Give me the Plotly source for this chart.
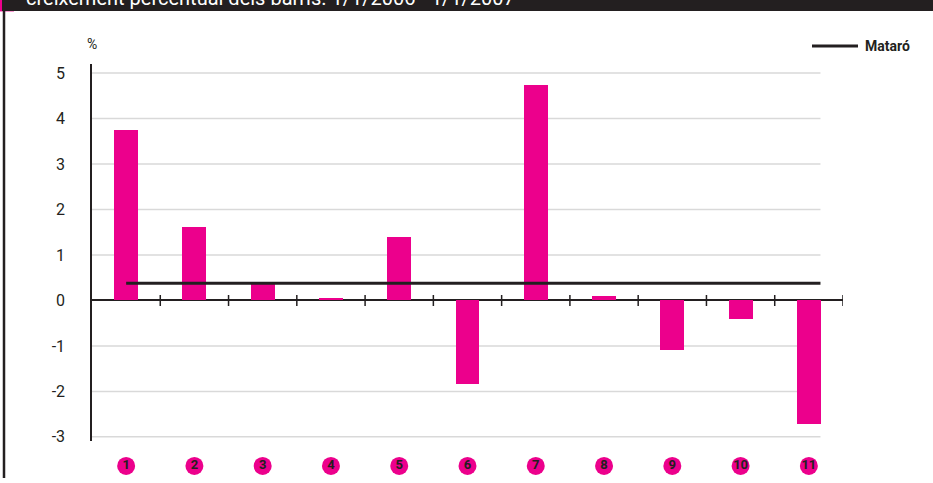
import plotly.graph_objects as go

barris = ["1", "2", "3", "4", "5", "6", "7", "8", "9", "10", "11"]
creixement = [3.75, 1.61, 0.37, 0.05, 1.39, -1.83, 4.74, 0.09, -1.08, -0.40, -2.72]
mataro = 0.38
y_ticks = [5, 4, 3, 2, 1, 0, -1, -2, -3]
titol = "creixement percentual dels barris. 1/1/2006 - 1/1/2007"

W, H = 933, 483
H_EFF = 477  # alçada visible efectiva a la captura
MAGENTA = "#EC008C"
DARK = "#231F20"
GRID = "#D9D9D9"
FONT = "Roboto"


def px_x(p):
    return p / W


def px_y(p):
    return 1 - p / H_EFF


y_range = [-3.1, 5.2]
x_pos = list(range(len(barris)))

fig = go.Figure()

fig.add_trace(go.Bar(
    x=x_pos, y=creixement, width=0.35,
    marker=dict(color=MAGENTA, line=dict(width=0)),
    showlegend=False, hoverinfo="y"
))

# línia de Mataró
fig.add_trace(go.Scatter(
    x=[0, 10.17], y=[mataro, mataro], mode="lines",
    line=dict(color=DARK, width=3), name="Mataró", showlegend=False
))

# etiquetes de barri (cercles), en un eix propi a sota
fig.add_trace(go.Scatter(
    x=x_pos, y=[0.5] * len(barris), mode="markers+text",
    xaxis="x", yaxis="y2",
    text=barris, textposition="middle center",
    textfont=dict(family=FONT, size=13, color=DARK, weight="bold"),
    marker=dict(color=MAGENTA, size=18, line=dict(width=0)),
    cliponaxis=False, showlegend=False, hoverinfo="skip"
))

shapes = []
# graella
for v in y_ticks:
    if v == 0:
        continue
    shapes.append(dict(type="line", xref="x", yref="y", x0=-0.56, x1=10.17, y0=v, y1=v,
                       line=dict(color=GRID, width=1.5), layer="below"))
# marques de l'eix x
for i in range(len(barris)):
    b = i + 0.5
    shapes.append(dict(type="line", xref="x", yref="y", x0=b, x1=b, y0=-0.12, y1=0.12,
                       line=dict(color=DARK, width=1.5)))
# capçalera
shapes.append(dict(type="rect", xref="paper", yref="paper", x0=0, x1=1, y0=px_y(11), y1=1,
                   fillcolor=DARK, line=dict(width=0)))
shapes.append(dict(type="rect", xref="paper", yref="paper", x0=0, x1=px_x(2), y0=px_y(11), y1=1,
                   fillcolor=MAGENTA, line=dict(width=0)))
shapes.append(dict(type="rect", xref="paper", yref="paper", x0=0, x1=px_x(14), y0=px_y(12), y1=px_y(11),
                   fillcolor=MAGENTA, line=dict(width=0), opacity=0.4))
# vora esquerra
shapes.append(dict(type="line", xref="paper", yref="paper", x0=px_x(4), x1=px_x(4), y0=0, y1=px_y(11),
                   line=dict(color=DARK, width=2.5)))
# llegenda
shapes.append(dict(type="line", xref="paper", yref="paper", x0=px_x(812), x1=px_x(858),
                   y0=px_y(46), y1=px_y(46), line=dict(color=DARK, width=3)))

annotations = [
    dict(text="Mataró", xref="paper", yref="paper", x=px_x(863), y=px_y(46),
         xanchor="left", yanchor="middle", showarrow=False,
         font=dict(family=FONT, size=14, color=DARK, weight="bold")),
    dict(text="%", xref="paper", yref="paper", x=px_x(92), y=px_y(44),
         xanchor="center", yanchor="middle", showarrow=False,
         font=dict(family=FONT, size=14, color=DARK)),
    dict(text=titol, xref="paper", yref="paper", x=px_x(24), y=1,
         xanchor="left", yanchor="bottom", yshift=-12, showarrow=False,
         font=dict(family=FONT, size=20, color="white")),
]

fig.update_layout(
    width=W, height=H, autosize=False,
    margin=dict(l=0, r=0, t=0, b=0),
    paper_bgcolor="white", plot_bgcolor="white",
    bargap=0, shapes=shapes, annotations=annotations,
    xaxis=dict(range=[-0.5, 10.5], domain=[px_x(92), px_x(843)],
               showgrid=False, zeroline=False, showticklabels=False, showline=False,
               fixedrange=True),
    yaxis=dict(range=y_range, domain=[px_y(440.5), px_y(63.9)],
               tickvals=y_ticks, ticktext=[str(v) for v in y_ticks],
               showgrid=False, zeroline=True, zerolinecolor=DARK, zerolinewidth=1.5,
               showline=True, linecolor=DARK, linewidth=1.5,
               ticks="", ticklabelstandoff=22,
               tickfont=dict(family=FONT, size=16, color=DARK), fixedrange=True),
    yaxis2=dict(range=[0, 1], domain=[px_y(475), px_y(455)], visible=False, fixedrange=True),
)

fig.write_html(
    "out.html",
    config={"displayModeBar": False, "responsive": False},
    post_script="document.body.style.margin='0';document.body.style.overflow='hidden';",
)
